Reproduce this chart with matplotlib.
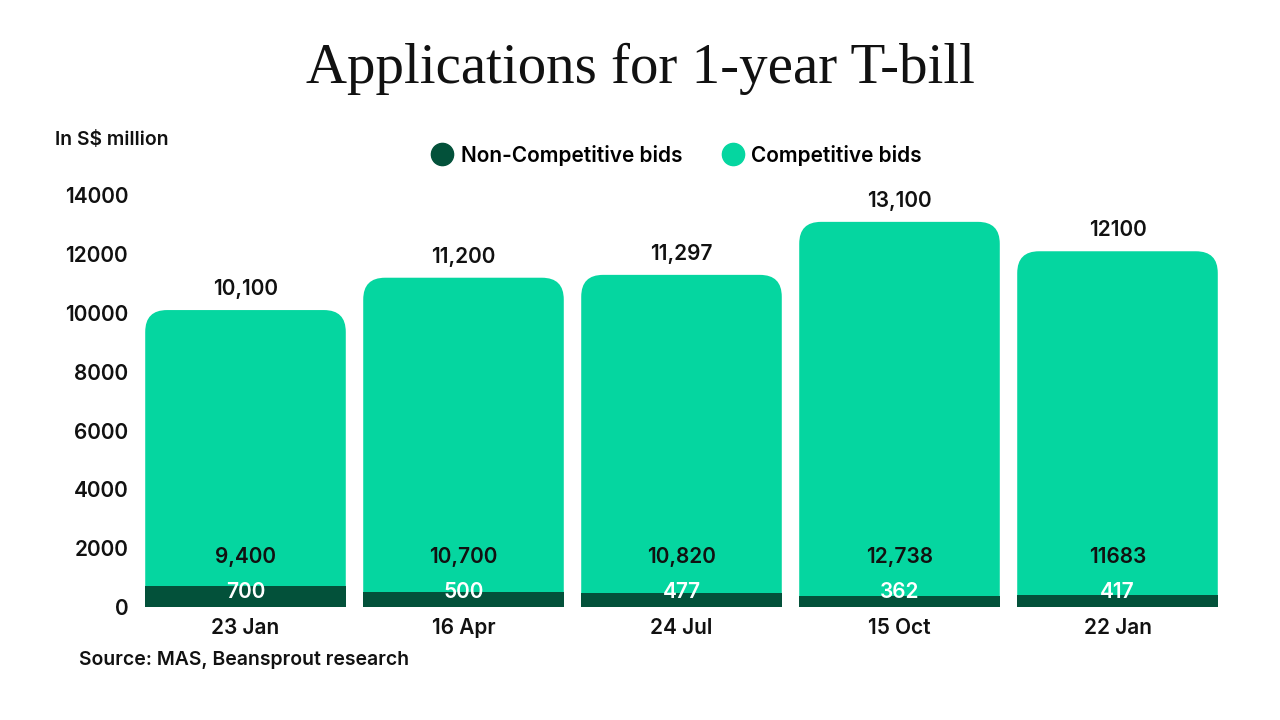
import matplotlib.pyplot as plt
from matplotlib.patches import FancyBboxPatch
from matplotlib.lines import Line2D

dates = ["23 Jan", "16 Apr", "24 Jul", "15 Oct", "22 Jan"]
non_competitive = [700, 500, 477, 362, 417]
competitive = [9400, 10700, 10820, 12738, 11683]
total_labels = ["10,100", "11,200", "11,297", "13,100", "12100"]
competitive_labels = ["9,400", "10,700", "10,820", "12,738", "11683"]
non_competitive_labels = ["700", "500", "477", "362", "417"]
yticks = [0, 2000, 4000, 6000, 8000, 10000, 12000, 14000]

GREEN = "#05d6a0"
DARK = "#03513a"
SANS = ["Inter", "DejaVu Sans"]
W = "semibold"

plt.rcParams["font.family"] = SANS

fig = plt.figure(figsize=(12.8, 7.2), dpi=100)
ax = fig.add_axes([136.5 / 1280, 1 - 607 / 720, 1090 / 1280, 441 / 720])

ymax = 15000
ax.set_xlim(-0.5, len(dates) - 0.5)
ax.set_ylim(0, ymax)

width = 0.92
# px per data unit, for round corners
px_x = 1090 / len(dates)
px_y = 441 / ymax
aspect = px_x / px_y

for i, (nc, c) in enumerate(zip(non_competitive, competitive)):
    total = nc + c
    # rounded bar starts below 0 so the bottom corners get clipped away
    box = FancyBboxPatch((i - width / 2, -2000), width, total + 2000,
                         boxstyle="round,pad=0,rounding_size=0.1",
                         mutation_aspect=aspect, fc=GREEN, ec="none", zorder=2)
    ax.add_patch(box)
    ax.bar(i, nc, width=width, color=DARK, zorder=3)

    ax.annotate(total_labels[i], (i, total), xytext=(0, 8), textcoords="offset points",
                ha="center", va="bottom", fontsize=15, fontweight=W, color="#111111")
    ax.text(i, 1700, competitive_labels[i], ha="center", va="center",
            fontsize=15, fontweight=W, color="#111111", zorder=4)
    ax.text(i, 500, non_competitive_labels[i], ha="center", va="center",
            fontsize=15, fontweight=W, color="white", zorder=4)

ax.set_xticks(range(len(dates)))
ax.set_xticklabels(dates, fontsize=15, fontweight=W, color="#111111")
ax.set_yticks(yticks)
ax.set_yticklabels([str(t) for t in yticks], fontsize=15, fontweight=W, color="#111111")
ax.tick_params(length=0, pad=8)
ax.tick_params(axis="y", pad=6)
for s in ax.spines.values():
    s.set_visible(False)

fig.text(0.5, 0.905, "Applications for 1-year T-bill", ha="center", va="center",
         fontsize=41, family=["Liberation Serif", "DejaVu Serif"], color="#111111")
fig.text(55 / 1280, 1 - 140 / 720, "In S$ million", ha="left", va="center",
         fontsize=14, fontweight=W, color="#111111")
fig.text(79 / 1280, 1 - 660 / 720, "Source: MAS, Beansprout research", ha="left", va="center",
         fontsize=14, fontweight=W, color="#111111")

handles = [Line2D([], [], marker="o", ls="none", markersize=16, color=DARK),
           Line2D([], [], marker="o", ls="none", markersize=16, color=GREEN)]
fig.legend(handles, ["Non-Competitive bids", "Competitive bids"], loc="center",
           bbox_to_anchor=(676 / 1280, 1 - 155 / 720), ncol=2, frameon=False,
           prop={"size": 15, "weight": W}, handletextpad=0.3, columnspacing=1.8,
           handlelength=1.2)

fig.savefig("out.png", dpi=100, facecolor="white")
